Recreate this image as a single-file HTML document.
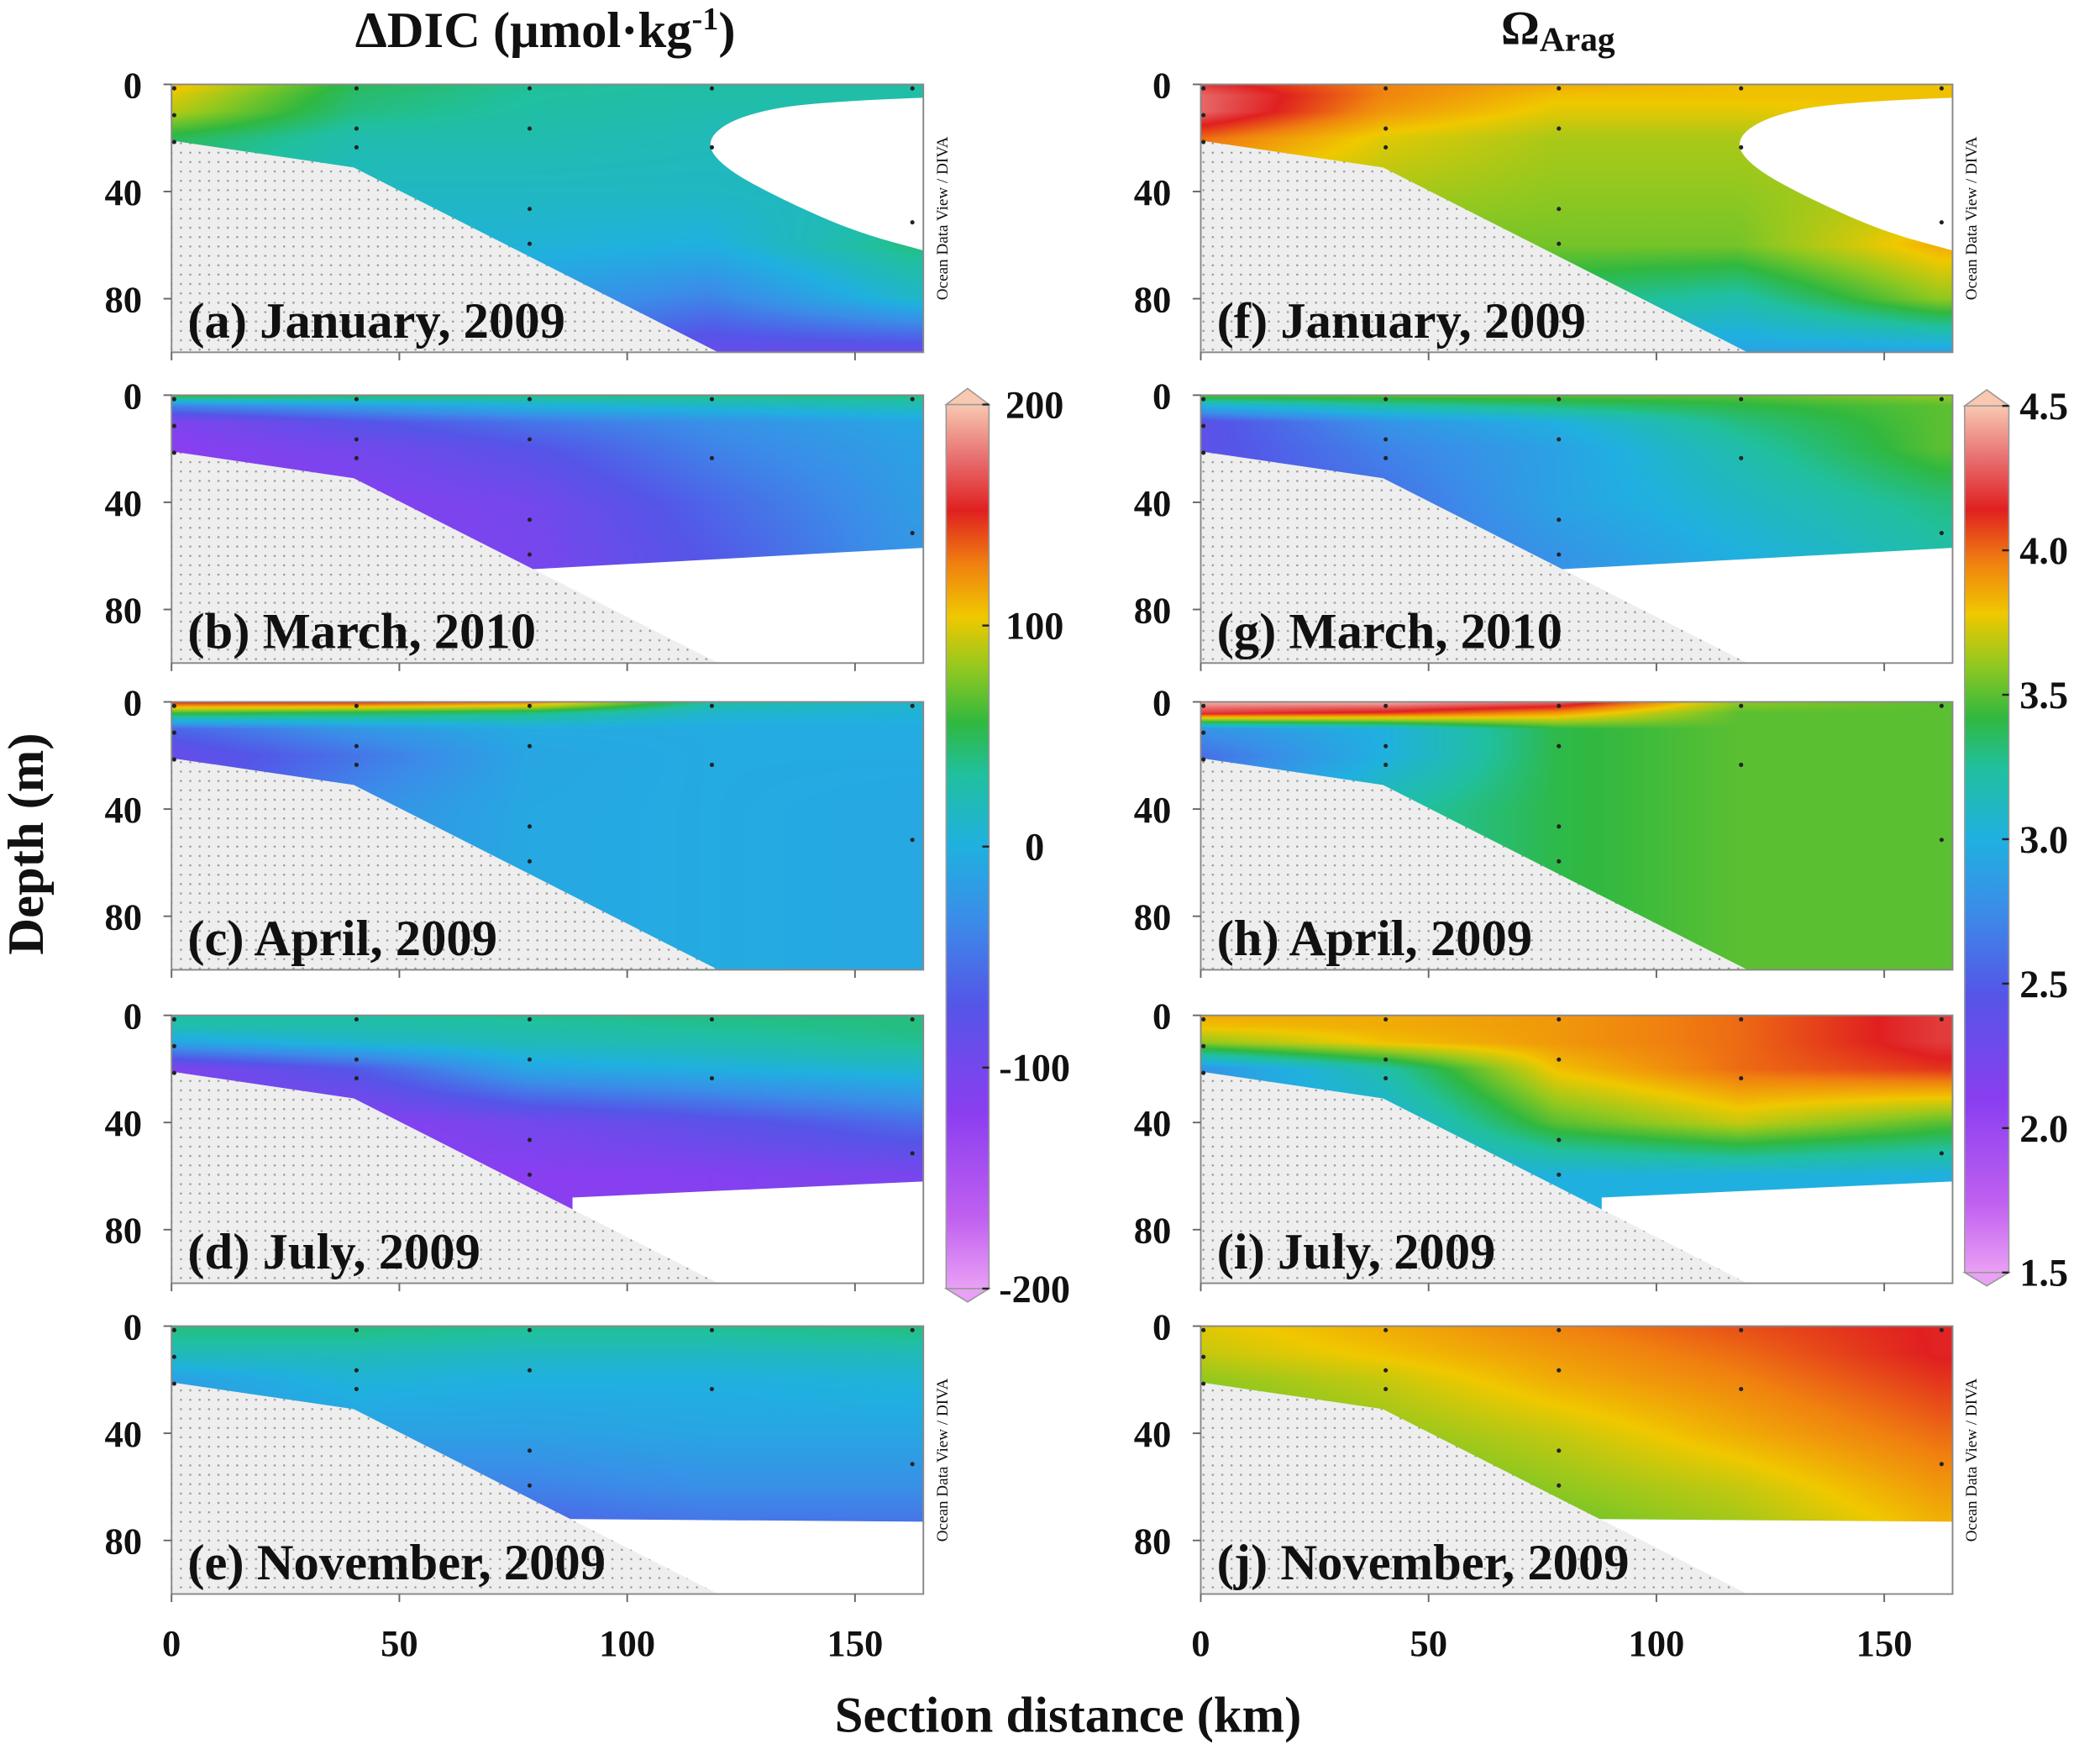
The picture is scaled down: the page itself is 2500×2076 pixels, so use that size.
<!DOCTYPE html>
<html><head><meta charset="utf-8">
<style>
html,body{margin:0;padding:0;background:#fff;}
#stage{position:relative;width:1567px;height:1302px;transform:scale(1.5954,1.5945);transform-origin:0 0;overflow:hidden;}
canvas{position:absolute;}
svg{position:absolute;left:0;top:0;}
text{font-family:"Liberation Serif",serif;}
</style></head>
<body>
<div id="stage">
<svg id="ov" width="1567" height="1302" viewBox="0 0 1567 1302">
<defs>
<pattern id="stip" width="7" height="7" patternUnits="userSpaceOnUse">
<rect width="7" height="7" fill="#eeeeee"/><circle cx="2" cy="2" r="0.8" fill="#9a9a9a"/>
</pattern>
</defs>
</svg>
</div>
<script>
// ---- data ----
const stationKm = [0, 40, 78, 118, 162];
const depthLevels = [0, 4, 10, 20, 40, 60, 80, 100];
const xTicks = [0, 50, 100, 150];
const depthTicks = [0, 40, 80];
const dicTicks = [200, 100, 0, -100, -200];
const omegaTicks = [4.5, 4.0, 3.5, 3.0, 2.5, 2.0, 1.5];

const dicJan = [[110,50,35,30,30],[100,45,32,28,28],[90,40,30,25,25],[50,25,25,20,20],[30,15,15,15,20],[20,5,5,0,40],[10,-10,-20,-40,10],[0,-30,-60,-90,-90]];
const dicMar = [[60,50,40,40,40],[-40,-20,0,10,20],[-110,-75,-50,-30,-10],[-120,-100,-75,-40,-15],[-120,-115,-100,-60,-20],[-120,-115,-105,-70,-25],[-120,-115,-105,-70,-25],[-120,-115,-105,-70,-25]];
const dicApr = [[150,150,130,30,10],[60,50,40,10,5],[-60,-25,-5,-5,-5],[-90,-50,-10,-5,-5],[-80,-30,-8,-5,-8],[-60,-25,-8,-5,-8],[-60,-25,-8,-5,-8],[-60,-25,-8,-5,-8]];
const dicJul = [[30,30,35,40,40],[25,25,30,35,40],[-10,10,20,25,35],[-110,-70,-10,0,10],[-110,-120,-100,-80,-55],[-110,-120,-120,-115,-105],[-110,-120,-120,-115,-105],[-110,-120,-120,-115,-105]];
const dicNov = [[40,40,35,35,40],[35,35,30,30,35],[20,20,15,15,20],[-15,5,0,0,5],[-25,-15,-15,-10,-10],[-40,-40,-40,-30,-30],[-60,-70,-70,-60,-60],[-60,-70,-70,-60,-60]];

const omJan = [[4.2,3.95,3.85,3.8,3.8],[4.3,3.95,3.8,3.8,3.8],[4.3,3.9,3.75,3.75,3.8],[4.0,3.75,3.65,3.65,3.75],[3.75,3.65,3.6,3.6,3.7],[3.65,3.55,3.55,3.55,3.85],[3.5,3.4,3.3,3.2,3.6],[3.3,3.1,3.0,2.9,2.9]];
const omMar = [[3.5,3.5,3.5,3.5,3.6],[3.0,3.2,3.3,3.4,3.5],[2.4,2.8,3.0,3.3,3.5],[2.4,2.7,2.9,3.2,3.5],[2.4,2.6,2.9,3.1,3.3],[2.4,2.6,2.8,3.0,3.2],[2.4,2.6,2.8,3.0,3.2],[2.4,2.6,2.8,3.0,3.2]];
const omApr = [[4.45,4.45,4.3,3.6,3.5],[4.2,4.1,3.9,3.5,3.5],[2.8,3.0,3.4,3.5,3.5],[2.6,3.0,3.4,3.5,3.5],[2.8,3.2,3.4,3.5,3.5],[2.8,3.2,3.4,3.5,3.5],[2.8,3.2,3.4,3.5,3.5],[2.8,3.2,3.4,3.5,3.5]];
const omJul = [[3.85,3.85,3.9,4.0,4.2],[3.8,3.85,3.9,4.0,4.2],[3.6,3.8,3.9,4.0,4.2],[2.8,3.2,3.8,4.0,4.1],[2.9,3.0,3.5,3.7,3.5],[3.0,3.0,3.0,3.0,3.0],[3.0,3.0,3.0,3.0,3.0],[3.0,3.0,3.0,3.0,3.0]];
const omNov = [[3.75,3.85,3.95,4.05,4.15],[3.73,3.83,3.93,4.03,4.15],[3.7,3.8,3.9,4.0,4.15],[3.6,3.7,3.85,3.95,4.1],[3.5,3.6,3.7,3.85,4.0],[3.5,3.5,3.6,3.7,3.9],[3.5,3.5,3.5,3.6,3.8],[3.5,3.5,3.5,3.6,3.8]];

// seafloor (km, depth)
const seafloor = [[0,21],[40,31],[120,100]];
// data-extent bottom lines (km, depth); null = full depth
const bottomJan = null;
const bottomMar = [[79,65],[165,57]];
const bottomApr = null;
const bottomJul = [[88,68],[165,62]];
const bottomNov = [[85,72],[165,73]];
// white gap in January (km, depth)
const gapJan = [[165,5],[140,6.5],[124,12],[117,21],[121,31],[134,43],[150,55],[165,62]];
// sample depths at stations
const sampleDepths = [[0,10,20],[0,15,22],[0,15,45,58],[0,22],[0,50]];

const colorStops = [[0,"#e9a0f5"],[0.08,"#c060f0"],[0.2,"#8a3ef0"],[0.32,"#5555e8"],[0.42,"#3a8ee8"],[0.5,"#20b0e0"],[0.58,"#20c0a0"],[0.64,"#30b840"],[0.7,"#90c820"],[0.76,"#f0c800"],[0.82,"#f08010"],[0.88,"#e02020"],[0.94,"#e87070"],[1,"#f8c8b0"]];

// ---- layout ----
const pxPerKm = 3.4, pxPerM = 2, panelW = 165*3.4;
const colX = [128, 896];
const rowTop = [63, 295, 524, 758, 990];
const panels = [
 {c:0,r:0,f:dicJan,b:bottomJan,g:gapJan,lab:"(a) January, 2009",n:"dic-jan",odv:true},
 {c:0,r:1,f:dicMar,b:bottomMar,lab:"(b) March, 2010",n:"dic-mar"},
 {c:0,r:2,f:dicApr,b:bottomApr,lab:"(c) April, 2009",n:"dic-apr"},
 {c:0,r:3,f:dicJul,b:bottomJul,lab:"(d) July, 2009",n:"dic-jul"},
 {c:0,r:4,f:dicNov,b:bottomNov,lab:"(e) November, 2009",n:"dic-nov",odv:true},
 {c:1,r:0,f:omJan,b:bottomJan,g:gapJan,lab:"(f) January, 2009",n:"omega-jan",odv:true},
 {c:1,r:1,f:omMar,b:bottomMar,lab:"(g) March, 2010",n:"omega-mar"},
 {c:1,r:2,f:omApr,b:bottomApr,lab:"(h) April, 2009",n:"omega-apr"},
 {c:1,r:3,f:omJul,b:bottomJul,lab:"(i) July, 2009",n:"omega-jul"},
 {c:1,r:4,f:omNov,b:bottomNov,lab:"(j) November, 2009",n:"omega-nov",odv:true}
];
const stage = document.getElementById('stage');
const svg = document.getElementById('ov');
const NS = "http://www.w3.org/2000/svg";
function hex(h){return [parseInt(h.substr(1,2),16),parseInt(h.substr(3,2),16),parseInt(h.substr(5,2),16)];}
const stopsRGB = colorStops.map(s=>[s[0],hex(s[1])]);
function cmap(t){t=Math.max(0,Math.min(1,t));for(let i=1;i<stopsRGB.length;i++){if(t<=stopsRGB[i][0]){const a=stopsRGB[i-1],b=stopsRGB[i];const u=(t-a[0])/(b[0]-a[0]);return a[1].map((v,k)=>v+(b[1][k]-v)*u);}}return stopsRGB[stopsRGB.length-1][1];}
function norm(c,v){return c===0?(v+200)/400:(v-1.5)/3;}
function seg(arr,v){for(let i=1;i<arr.length;i++){if(v<=arr[i])return [i-1,(v-arr[i-1])/(arr[i]-arr[i-1])];}return [arr.length-2,1];}
function interp(f,km,d){km=Math.max(0,Math.min(162,km));const [i,u]=seg(stationKm,km);const [j,w]=seg(depthLevels,d);
 const a=f[j][i]*(1-u)+f[j][i+1]*u, b=f[j+1][i]*(1-u)+f[j+1][i+1]*u;return a*(1-w)+b*w;}
function el(tag,attrs,parent){const e=document.createElementNS(NS,tag);for(const k in attrs)e.setAttribute(k,attrs[k]);(parent||svg).appendChild(e);return e;}
function txt(s,x,y,size,anchor,parent,weight){const t=el('text',{x:x,y:y,'font-size':size,'text-anchor':anchor||'start','font-weight':weight||'bold',fill:'#111'},parent);t.textContent=s;return t;}
function smoothPath(pts){let d='M'+pts[0][0]+','+pts[0][1];for(let i=1;i<pts.length-1;i++){const mx=(pts[i][0]+pts[i+1][0])/2,my=(pts[i][1]+pts[i+1][1])/2;d+=' Q'+pts[i][0]+','+pts[i][1]+' '+mx+','+my;}const l=pts[pts.length-1];return d+' L'+l[0]+','+l[1]+' Z';}

panels.forEach(p=>{
 const X0=colX[p.c], Y0=rowTop[p.r];
 const sx=km=>X0+km*pxPerKm, sy=d=>Y0+d*pxPerM;
 const cv=document.createElement('canvas');
 
 
 const W=Math.round(panelW), H=200, S=2;
 cv.width=W*S; cv.height=H*S; cv.style.left=X0+'px'; cv.style.top=Y0+'px'; cv.style.width=W+'px'; cv.style.height=H+'px';
 const ctx=cv.getContext('2d'); const img=ctx.createImageData(W*S,H*S);
 for(let y=0;y<H*S;y++){const d=y/S/pxPerM;for(let x=0;x<W*S;x++){const km=x/S/pxPerKm;const col=cmap(norm(p.c,interp(p.f,km,d)));const o=(y*W*S+x)*4;img.data[o]=col[0];img.data[o+1]=col[1];img.data[o+2]=col[2];img.data[o+3]=255;}}
 ctx.putImageData(img,0,0);
 stage.insertBefore(cv,svg);
 const g=el('g',{});
 if(p.b){const pts=[[p.b[0][0],p.b[0][1]]].concat(p.b.slice(1)).concat([[165,100],[p.b[0][0],100]]);
  el('polygon',{points:pts.map(q=>sx(q[0])+','+sy(q[1])).join(' '),fill:'#fff',},g);}
 if(p.g){el('path',{d:smoothPath(p.g.map(q=>[sx(q[0]),sy(q[1])])),fill:'#fff',},g);}
 const sf=seafloor.map(q=>sx(q[0])+','+sy(q[1])).join(' ')+' '+sx(0)+','+sy(100);
 el('polygon',{points:sf,fill:'url(#stip)',},g);
 el('rect',{x:X0,y:Y0,width:panelW,height:200,fill:'none',stroke:'#888','stroke-width':1.2,},g);
 stationKm.forEach((k,i)=>sampleDepths[i].forEach(d=>el('circle',{cx:sx(k)+2,cy:sy(d)+3,r:1.6,fill:'#222',},g)));
 depthTicks.forEach(d=>{el('line',{x1:X0-6,x2:X0,y1:sy(d),y2:sy(d),stroke:'#666','stroke-width':1.2},g);
  txt(String(d),X0-22,sy(d)+10,28,'end',g);});
 xTicks.forEach(k=>el('line',{x1:sx(k),x2:sx(k),y1:Y0+200,y2:Y0+206,stroke:'#666','stroke-width':1.2},g));
 txt(p.lab,X0+12,Y0+189,38,'start',g);
 if(p.odv){const t=txt('Ocean Data View / DIVA',0,0,12,'middle',g,'normal');t.setAttribute('transform','translate('+(X0+panelW+18)+','+(Y0+100)+') rotate(-90)');}
 if(p.r===4) xTicks.forEach(k=>{const t=txt(String(k),sx(k),Y0+246,28,'middle',g);});
});

// colorbars
function colorbar(x,w,yTop,yBot,ticks,c,name){
 const g=el('g',{});
 const id='grad'+c;const lg=el('linearGradient',{id:id,x1:0,y1:1,x2:0,y2:0},svg.querySelector('defs'));
 colorStops.forEach(s=>el('stop',{offset:s[0],'stop-color':s[1]},lg));
 el('rect',{x:x,y:yTop,width:w,height:yBot-yTop,fill:'url(#'+id+')',stroke:'#999','stroke-width':1},g);
 el('polygon',{points:x+','+yTop+' '+(x+w/2)+','+(yTop-12)+' '+(x+w)+','+yTop,fill:colorStops[colorStops.length-1][1],stroke:'#999'},g);
 el('polygon',{points:x+','+yBot+' '+(x+w/2)+','+(yBot+10)+' '+(x+w)+','+yBot,fill:colorStops[0][1],stroke:'#999'},g);
 const lo=ticks[ticks.length-1],hi=ticks[0];
 ticks.forEach(v=>{const y=yBot-(v-lo)/(hi-lo)*(yBot-yTop);
  el('line',{x1:x+w-5,x2:x+w,y1:y,y2:y,stroke:'#222','stroke-width':1.5},g);
  const t=txt(c===0?String(v):v.toFixed(1),x+w+(c===0?34:8),y+10,29,c===0?'middle':'start',g);});
}
colorbar(706,32,302,962,dicTicks,0,'dic-colorbar');
colorbar(1466,33,303,950,omegaTicks,1,'omega-colorbar');

// titles
let t=txt('\u0394DIC (\u03bcmol\u00b7kg',265,35,38,'start');
const sp=el('tspan',{dy:-13,'font-size':24},t);sp.textContent='-1';const sp2=el('tspan',{dy:13},t);sp2.textContent=')';
t=txt('\u03a9',1120,33,36,'start');
const s3=el('tspan',{dy:5,'font-size':26},t);s3.textContent='Arag';
t=txt('Depth (m)',0,0,38,'middle');t.setAttribute('transform','translate(32,630) rotate(-90)');
t=txt('Section distance (km)',797,1293,38,'middle');
</script>
</body></html>
